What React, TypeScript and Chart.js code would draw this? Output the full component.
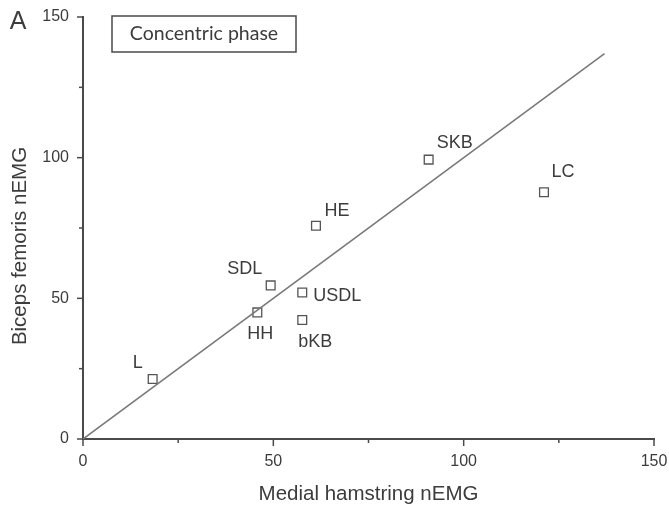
import React, { useEffect, useRef } from 'react';
import { Chart, registerables } from 'chart.js';

Chart.register(...registerables);

// ---- Data ----
const exerciseLabels = ['L', 'HH', 'SDL', 'USDL', 'bKB', 'HE', 'SKB', 'LC'];
const medialHamstring = [18.3, 45.8, 49.3, 57.6, 57.6, 61.2, 90.8, 121.1];
const bicepsFemoris = [21.3, 45.0, 54.6, 52.1, 42.3, 75.8, 99.3, 87.7];
const identityLineX = [0, 137];
const majorTicks = [0, 50, 100, 150];
const minorTicks = [25, 75, 125];

// ---- Styles ----
const AXIS = '#4a4a4a';
const TEXT = '#3c3c3c';
const FONT = 'Liberation Sans';
const labelOffsets: [number, number][] = [
  [-15, -16], [3, 22], [-26, -16], [35, 4], [13, 22], [21, -15], [26, -17], [19, -20],
];

const decorPlugin = {
  id: 'decor',
  afterDraw(chart: any) {
    const { ctx, chartArea } = chart;
    const xs = chart.scales.x;
    const ys = chart.scales.y;
    ctx.save();
    ctx.strokeStyle = AXIS;
    ctx.lineWidth = 1.5;
    const drawTick = (x1: number, y1: number, x2: number, y2: number) => {
      ctx.beginPath();
      ctx.moveTo(x1, y1);
      ctx.lineTo(x2, y2);
      ctx.stroke();
    };
    majorTicks.forEach((v) => {
      const px = xs.getPixelForValue(v);
      drawTick(px, chartArea.bottom, px, chartArea.bottom + 7);
      const py = ys.getPixelForValue(v);
      drawTick(chartArea.left - 6, py, chartArea.left, py);
    });
    minorTicks.forEach((v) => {
      const px = xs.getPixelForValue(v);
      drawTick(px, chartArea.bottom, px, chartArea.bottom + 4);
      const py = ys.getPixelForValue(v);
      drawTick(chartArea.left - 4, py, chartArea.left, py);
    });

    ctx.fillStyle = TEXT;
    ctx.font = `18px "${FONT}"`;
    ctx.textAlign = 'center';
    ctx.textBaseline = 'middle';
    const meta = chart.getDatasetMeta(1);
    meta.data.forEach((el: any, i: number) => {
      const [dx, dy] = labelOffsets[i];
      ctx.fillText(exerciseLabels[i], el.x + dx, el.y + dy);
    });

    ctx.save();
    ctx.font = `20.5px "${FONT}"`;
    ctx.translate(20, 246);
    ctx.rotate(-Math.PI / 2);
    ctx.fillText('Biceps femoris nEMG', 0, 0);
    ctx.restore();

    ctx.font = `25px "${FONT}"`;
    ctx.fillText('A', 18, 22);

    ctx.strokeStyle = AXIS;
    ctx.lineWidth = 1.5;
    ctx.strokeRect(112, 16, 184, 36);
    ctx.font = '19.5px Lato';
    ctx.fillText('Concentric phase', 204, 34);
    ctx.restore();
  },
};

export default function App() {
  const canvasRef = useRef<HTMLCanvasElement | null>(null);

  useEffect(() => {
    document.body.style.margin = '0';
    const canvas = canvasRef.current;
    if (!canvas) return;
    const chart = new Chart(canvas, {
      type: 'scatter',
      data: {
        datasets: [
          {
            data: identityLineX.map((v) => ({ x: v, y: v })),
            showLine: true,
            borderColor: '#7a7a7a',
            borderWidth: 1.6,
            pointRadius: 0,
            fill: false,
          },
          {
            data: medialHamstring.map((v, i) => ({ x: v, y: bicepsFemoris[i] })),
            pointStyle: 'rect',
            pointRadius: 6.2,
            pointBorderWidth: 1.3,
            pointBorderColor: '#555',
            pointBackgroundColor: 'rgba(255,255,255,0)',
            showLine: false,
          },
        ],
      },
      options: {
        responsive: false,
        animation: false,
        devicePixelRatio: 1,
        layout: { padding: { left: 0, top: 17, right: 15, bottom: 0 } },
        plugins: { legend: { display: false }, tooltip: { enabled: false } },
        scales: {
          x: {
            type: 'linear',
            min: 0,
            max: 150,
            grid: { display: false, drawTicks: false },
            border: { display: true, color: AXIS, width: 2 },
            ticks: {
              stepSize: 50,
              padding: 13,
              color: TEXT,
              font: { family: FONT, size: 16 },
            },
            title: {
              display: true,
              text: 'Medial hamstring nEMG',
              color: TEXT,
              font: { family: FONT, size: 20.5 },
              padding: { top: 0, bottom: 1 },
            },
            afterFit: (scale: any) => {
              scale.height = 69;
              scale.paddingLeft = 0;
              scale.paddingRight = 0;
            },
          },
          y: {
            type: 'linear',
            min: 0,
            max: 150,
            grid: { display: false, drawTicks: false },
            border: { display: true, color: AXIS, width: 2 },
            ticks: {
              stepSize: 50,
              padding: 14,
              color: TEXT,
              font: { family: FONT, size: 16 },
            },
            afterFit: (scale: any) => {
              scale.width = 83;
              scale.paddingTop = 0;
              scale.paddingBottom = 0;
            },
          },
        },
      },
      plugins: [decorPlugin],
    });
    return () => chart.destroy();
  }, []);

  return (
    <div style={{ position: 'absolute', left: 0, top: 0, width: 669, height: 508 }}>
      <canvas ref={canvasRef} width={669} height={508} />
    </div>
  );
}
